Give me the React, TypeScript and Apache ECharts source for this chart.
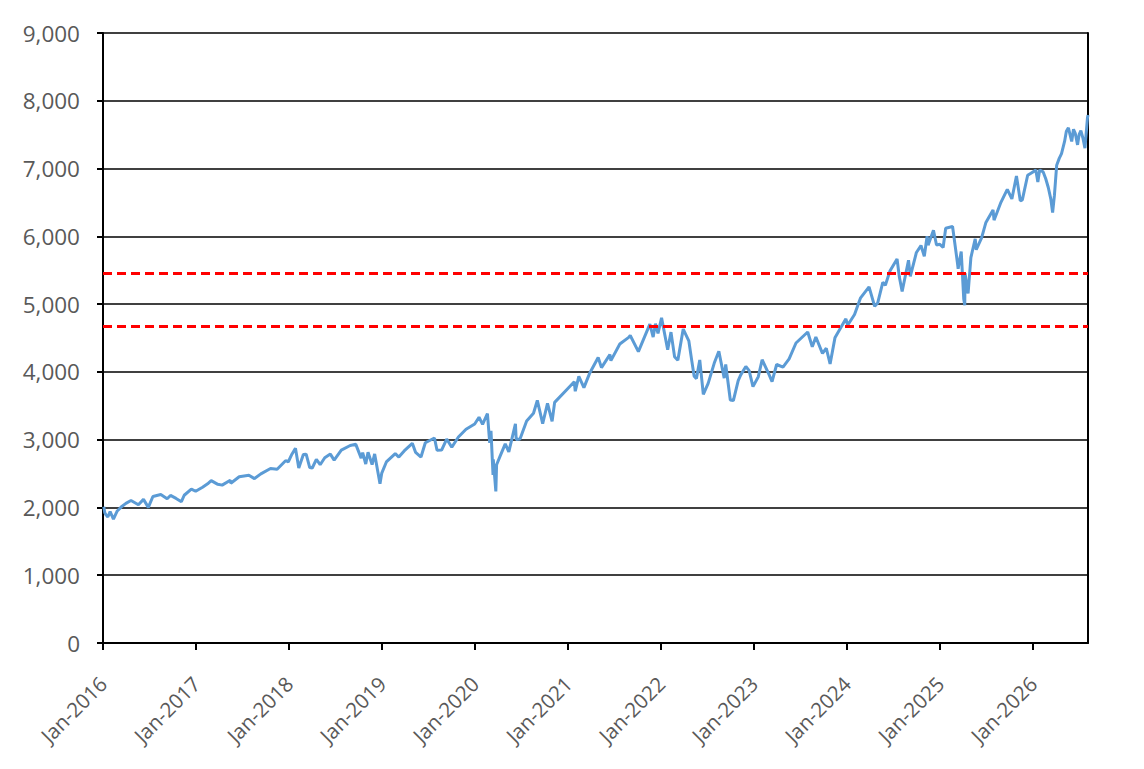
import React, { useEffect, useRef } from "react";
import * as echarts from "echarts";

const dates: string[] = [
  "2016-01-04","2016-01-08","2016-01-13","2016-01-20","2016-01-29","2016-02-11","2016-02-26","2016-03-15","2016-03-31","2016-04-20",
  "2016-05-19","2016-06-08","2016-06-27","2016-07-15","2016-08-15","2016-09-09","2016-09-22","2016-10-14","2016-11-04","2016-11-15",
  "2016-12-13","2016-12-30",
  "2017-01-26","2017-02-15","2017-03-01","2017-03-27","2017-04-13","2017-05-15","2017-05-17","2017-06-19","2017-07-27","2017-08-18",
  "2017-09-12","2017-10-20","2017-11-15","2017-12-18","2017-12-29",
  "2018-01-12","2018-01-26","2018-02-08","2018-02-26","2018-03-09","2018-03-23","2018-04-02","2018-04-18","2018-05-03","2018-05-21",
  "2018-06-12","2018-06-27","2018-07-25","2018-08-29","2018-09-20","2018-10-11","2018-10-17","2018-10-29","2018-11-07","2018-11-23",
  "2018-12-03","2018-12-24","2018-12-31",
  "2019-01-18","2019-02-22","2019-03-08","2019-03-29","2019-04-30","2019-05-13","2019-06-03","2019-06-20","2019-07-26","2019-08-05",
  "2019-08-23","2019-09-12","2019-10-02","2019-10-28","2019-11-27","2019-12-31",
  "2020-01-17","2020-01-31","2020-02-19","2020-02-28","2020-03-04","2020-03-12","2020-03-13","2020-03-23","2020-03-26","2020-04-08",
  "2020-04-29","2020-05-13","2020-06-08","2020-06-11","2020-06-26","2020-07-22","2020-08-18","2020-09-02","2020-09-23","2020-10-12",
  "2020-10-30","2020-11-09","2020-12-31",
  "2021-01-25","2021-01-29","2021-02-12","2021-03-04","2021-03-26","2021-04-29","2021-05-12","2021-06-14","2021-06-18","2021-07-23",
  "2021-08-27","2021-09-02","2021-10-04","2021-11-18","2021-12-01","2021-12-10","2021-12-20",
  "2022-01-03","2022-01-27","2022-02-09","2022-02-23","2022-03-08","2022-03-29","2022-04-20","2022-05-02","2022-05-11","2022-05-20",
  "2022-06-02","2022-06-16","2022-07-05","2022-07-29","2022-08-16","2022-09-06","2022-09-12","2022-09-30","2022-10-12","2022-10-31",
  "2022-11-10","2022-11-30","2022-12-13","2022-12-28",
  "2023-01-18","2023-02-02","2023-02-28","2023-03-13","2023-03-31","2023-04-25","2023-05-19","2023-06-15","2023-07-31","2023-08-18",
  "2023-09-01","2023-09-27","2023-10-12","2023-10-27","2023-11-15","2023-12-28",
  "2024-01-04","2024-01-31","2024-02-23","2024-03-28","2024-04-19","2024-05-01","2024-05-21","2024-05-31","2024-06-18","2024-07-16",
  "2024-07-25","2024-08-05","2024-08-30","2024-09-06","2024-09-30","2024-10-18","2024-10-31","2024-11-11","2024-11-15","2024-12-06",
  "2024-12-18","2024-12-31",
  "2025-01-13","2025-01-23","2025-02-19","2025-03-10","2025-03-13","2025-03-25","2025-04-04","2025-04-08","2025-04-09","2025-04-21",
  "2025-05-02","2025-05-19","2025-05-23","2025-06-13","2025-06-30","2025-07-28","2025-08-01","2025-08-28","2025-09-22","2025-10-10",
  "2025-10-28","2025-11-12","2025-11-20","2025-12-11","2025-12-24",
  "2026-01-12","2026-01-20","2026-01-27","2026-02-10","2026-02-20","2026-03-02","2026-03-12","2026-03-19","2026-03-26","2026-04-04",
  "2026-04-14","2026-04-23","2026-05-05","2026-05-12","2026-05-20","2026-06-02","2026-06-09","2026-06-16","2026-06-25","2026-07-01",
  "2026-07-08","2026-07-16","2026-07-24","2026-08-03","2026-08-05"
];

const values: number[] = [
  2012,1922,1890,1859,1940,1829,1948,2015,2060,2102,
  2040,2119,2001,2162,2190,2128,2177,2133,2085,2180,
  2271,2239,
  2298,2349,2396,2341,2329,2402,2357,2453,2475,2425,
  2496,2575,2564,2690,2674,
  2786,2873,2581,2780,2786,2588,2582,2708,2630,2733,
  2787,2699,2846,2914,2931,2728,2810,2641,2814,2633,
  2790,2351,2507,
  2671,2793,2743,2834,2946,2812,2744,2954,3025,2844,
  2847,3009,2888,3039,3154,3231,
  3330,3226,3386,2954,3130,2481,2711,2237,2630,2750,
  2939,2820,3232,3002,3009,3276,3390,3580,3237,3535,
  3270,3550,3756,
  3855,3714,3934,3768,3975,4211,4063,4255,4166,4411,
  4509,4537,4300,4704,4513,4712,4568,
  4797,4326,4587,4225,4170,4632,4459,4155,3935,3901,
  4177,3667,3831,4130,4305,3908,4110,3586,3577,3872,
  3956,4080,4019,3783,
  3929,4179,3970,3855,4109,4071,4192,4426,4589,4370,
  4515,4274,4349,4117,4502,4783,
  4688,4846,5088,5254,4967,5018,5321,5278,5487,5667,
  5399,5186,5648,5408,5762,5864,5705,6001,5870,6090,
  5872,5882,
  5836,6119,6144,5614,5521,5776,5074,4982,5457,5158,
  5686,5964,5802,5977,6205,6389,6238,6502,6693,6552,
  6890,6524,6538,6901,6932,
  6977,6800,6978,6950,6850,6720,6550,6350,6600,7050,
  7150,7220,7400,7550,7600,7400,7580,7520,7350,7500,
  7560,7450,7300,7750,7790
];

const referenceLevels: number[] = [5455, 4675];

const yMin = 0;
const yMax = 9000;
const yStep = 1000;
const xStart = "2016-01-01";
const xEnd = "2026-08-05";

const FONT = "'Open Sans', 'Noto Sans', sans-serif";

export default function App() {
  const ref = useRef<HTMLDivElement>(null);

  useEffect(() => {
    if (!ref.current) return;
    const chart = echarts.init(ref.current, undefined, { renderer: "svg" });
    const seriesData = dates.map((d, i) => [d, values[i]]);
    const YEAR = 365 * 24 * 3600 * 1000;
    chart.setOption({
      animation: false,
      backgroundColor: "#ffffff",
      grid: { left: 103, right: 56, top: 33, bottom: 126, containLabel: false, outerBoundsMode: "none" },
      xAxis: {
        type: "time",
        min: xStart,
        max: xEnd,
        minInterval: YEAR,
        maxInterval: YEAR + 24 * 3600 * 1000,
        axisLine: { show: true, lineStyle: { color: "#000000", width: 2 } },
        axisTick: { show: true, length: 7, lineStyle: { color: "#000000", width: 2 } },
        minorTick: { show: false },
        splitLine: { show: false },
        axisLabel: {
          rotate: 45,
          margin: 37,
          fontSize: 20.5,
          fontFamily: FONT,
          color: "#595959",
          hideOverlap: false,
          showMinLabel: true,
          formatter: (val: number) => {
            const d = new Date(val);
            return d.getMonth() === 0 ? "Jan-" + d.getFullYear() : "";
          },
        },
      },
      yAxis: [
        {
          type: "value",
          min: yMin,
          max: yMax,
          interval: yStep,
          axisLine: { show: true, lineStyle: { color: "#000000", width: 2 } },
          axisTick: { show: true, length: 6, lineStyle: { color: "#000000", width: 2 } },
          splitLine: { show: true, lineStyle: { color: "#000000", width: 1.6 } },
          axisLabel: {
            margin: 23,
            fontSize: 22.5,
            fontFamily: FONT,
            color: "#595959",
            formatter: (v: number) => v.toLocaleString("en-US"),
          },
        },
        {
          type: "value",
          min: yMin,
          max: yMax,
          interval: yStep,
          position: "right",
          axisLine: { show: true, lineStyle: { color: "#000000", width: 2 } },
          axisTick: { show: false },
          splitLine: { show: false },
          axisLabel: { show: false },
        },
      ],
      series: [
        {
          type: "line",
          data: seriesData,
          showSymbol: false,
          symbol: "none",
          lineStyle: { color: "#5B9BD5", width: 3 },
          z: 3,
          markLine: {
            silent: true,
            symbol: ["none", "none"],
            label: { show: false },
            lineStyle: { color: "#FF0000", type: [9, 5], width: 3 },
            data: referenceLevels.map((v) => ({ yAxis: v })),
          },
        },
      ],
    });
    return () => chart.dispose();
  }, []);

  return (
    <div
      ref={ref}
      style={{ position: "absolute", left: 0, top: 0, width: 1144, height: 769, background: "#fff" }}
    />
  );
}
